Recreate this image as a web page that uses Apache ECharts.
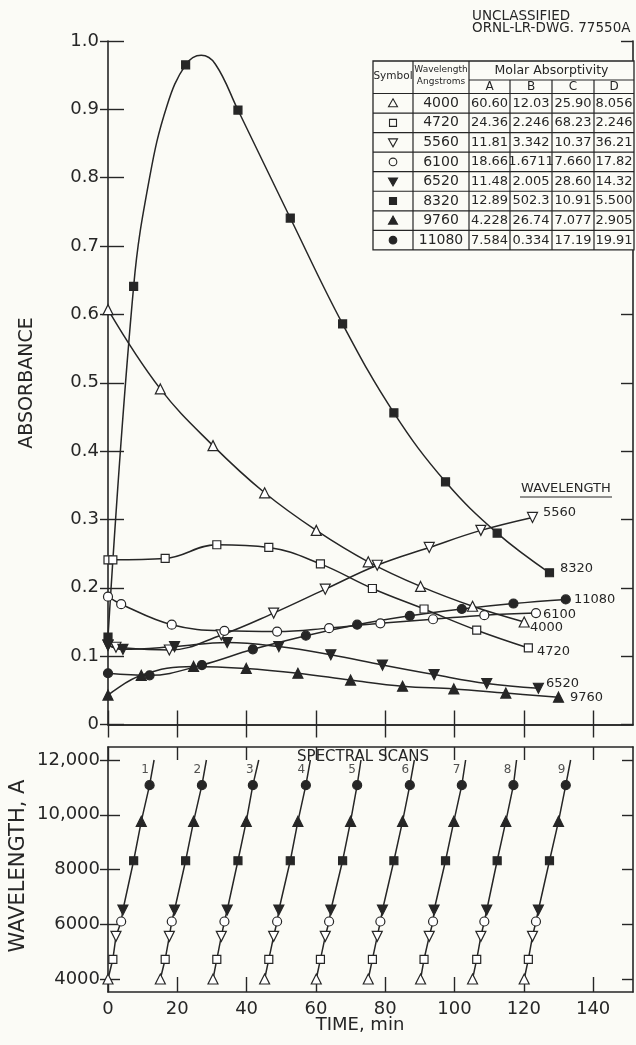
<!DOCTYPE html>
<html><head><meta charset="utf-8">
<script src="https://cdn.jsdelivr.net/npm/echarts@6/dist/echarts.min.js"></script>
<style>html,body{margin:0;padding:0;background:#fbfbf6}#c{width:636px;height:1045px}</style>
</head><body><div id="c"></div>
<script>
// ---------------- DATA ----------------
const wavelengths = [4000, 4720, 5560, 6100, 6520, 8320, 9760, 11080];
// absorbance drawn at t = 0 (null: the first scan point itself lies at t = 0)
const absAtZero = [null, 0.241, 0.116, 0.187, 0.116, 0.128, 0.043, 0.075];

const time4000 = [0, 15.1, 30.3, 45.2, 60.1, 75.1, 90.2, 105.2, 120.1];
const abs4000  = [0.607, 0.491, 0.408, 0.339, 0.284, 0.238, 0.202, 0.173, 0.150];
const time4720 = [1.4, 16.5, 31.4, 46.4, 61.3, 76.3, 91.2, 106.4, 121.3];
const abs4720  = [0.241, 0.243, 0.263, 0.259, 0.235, 0.199, 0.169, 0.138, 0.112];
const time5560 = [2.3, 17.7, 32.7, 47.8, 62.7, 77.7, 92.7, 107.6, 122.5];
const abs5560  = [0.113, 0.109, 0.131, 0.163, 0.198, 0.233, 0.259, 0.284, 0.303];
const time6100 = [3.8, 18.4, 33.6, 48.8, 63.8, 78.6, 93.8, 108.6, 123.5];
const abs6100  = [0.176, 0.146, 0.137, 0.136, 0.141, 0.148, 0.154, 0.160, 0.163];
const time6520 = [4.3, 19.2, 34.4, 49.3, 64.3, 79.2, 94.1, 109.3, 124.2];
const abs6520  = [0.110, 0.114, 0.120, 0.114, 0.102, 0.087, 0.073, 0.060, 0.053];
const time8320 = [7.4, 22.4, 37.5, 52.6, 67.7, 82.5, 97.4, 112.3, 127.4];
const abs8320  = [0.641, 0.965, 0.899, 0.741, 0.586, 0.456, 0.355, 0.280, 0.222];
const time9760 = [9.6, 24.7, 39.9, 54.8, 70.0, 85.0, 99.8, 114.8, 130.0];
const abs9760  = [0.072, 0.085, 0.082, 0.075, 0.065, 0.056, 0.052, 0.046, 0.040];
const time11080 = [12.0, 27.1, 41.8, 57.1, 71.9, 87.1, 102.1, 117.0, 132.1];
const abs11080  = [0.072, 0.087, 0.110, 0.130, 0.146, 0.159, 0.169, 0.177, 0.183];
// extra points (around its maximum)
const trace8320 = [[12.0, 0.800], [17.0, 0.905], [26.9, 0.979], [31.0, 0.966]];

// spectral scans (lower panel): end of each scan line
const scanNumbers = [1, 2, 3, 4, 5, 6, 7, 8, 9];
const scanTopTime = [13.3, 28.4, 43.5, 58.4, 73.0, 88.4, 103.2, 117.9, 133.5];
const scanTopWavelength = 12000;

// ticks
const timeTicks = [0, 20, 40, 60, 80, 100, 120, 140];
const absTicks = [0, 0.1, 0.2, 0.3, 0.4, 0.5, 0.6, 0.7, 0.8, 0.9, 1.0];
const wlTicks = [4000, 6000, 8000, 10000, 12000];

// table of molar absorptivities
const tableWavelengths = ['4000', '4720', '5560', '6100', '6520', '8320', '9760', '11080'];
const tableA = ['60.60', '24.36', '11.81', '18.66', '11.48', '12.89', '4.228', '7.584'];
const tableB = ['12.03', '2.246', '3.342', '1.6711', '2.005', '502.3', '26.74', '0.334'];
const tableC = ['25.90', '68.23', '10.37', '7.660', '28.60', '10.91', '7.077', '17.19'];
const tableD = ['8.056', '2.246', '36.21', '17.82', '14.32', '5.500', '2.905', '19.91'];
const curveLabels = ['4000', '4720', '5560', '6100', '6520', '8320', '9760', '11080'];

// ---------------- STYLE / BUILD ----------------
const times = [time4000, time4720, time5560, time6100, time6520, time8320, time9760, time11080];
const absv = [abs4000, abs4720, abs5560, abs6100, abs6520, abs8320, abs9760, abs11080];
const INK = '#262626';
const BG = '#fbfbf6';
const FONT = 'DejaVu Sans';
const LW = 1.5;
const sym = [
  {symbol: 'triangle', rotate: 0, filled: false, size: 10},
  {symbol: 'rect', rotate: 0, filled: false, size: 8},
  {symbol: 'triangle', rotate: 180, filled: false, size: 10},
  {symbol: 'circle', rotate: 0, filled: false, size: 9},
  {symbol: 'triangle', rotate: 180, filled: true, size: 10},
  {symbol: 'rect', rotate: 0, filled: true, size: 8},
  {symbol: 'triangle', rotate: 0, filled: true, size: 10},
  {symbol: 'circle', rotate: 0, filled: true, size: 9}
];

const series = [];
wavelengths.forEach((w, i) => {
  const pts = times[i].map((t, k) => [t, absv[i][k]]);
  const markerPts = (absAtZero[i] !== null ? [[0, absAtZero[i]]] : []).concat(pts);
  let linePts = markerPts.slice();
  if (w === 8320) linePts = linePts.concat(trace8320).sort((a, b) => a[0] - b[0]);
  series.push({
    type: 'line', xAxisIndex: 0, yAxisIndex: 0, data: linePts, smooth: 0.4,
    showSymbol: false, lineStyle: {color: INK, width: LW}, z: 2, silent: true
  });
  series.push({
    type: 'scatter', xAxisIndex: 0, yAxisIndex: 0, data: markerPts,
    symbol: sym[i].symbol, symbolRotate: sym[i].rotate, symbolSize: sym[i].size,
    itemStyle: {color: sym[i].filled ? INK : '#ffffff', borderColor: INK, borderWidth: 1.2, opacity: 1},
    z: 4, silent: true
  });
  // lower panel markers
  series.push({
    type: 'scatter', xAxisIndex: 2, yAxisIndex: 3, data: times[i].map(t => [t, w]),
    symbol: sym[i].symbol, symbolRotate: sym[i].rotate, symbolSize: sym[i].size,
    itemStyle: {color: sym[i].filled ? INK : '#ffffff', borderColor: INK, borderWidth: 1.2, opacity: 1},
    z: 4, silent: true
  });
});
scanNumbers.forEach((n, k) => {
  const pts = wavelengths.map((w, i) => [times[i][k], w]);
  pts.push([scanTopTime[k], scanTopWavelength]);
  series.push({
    type: 'line', xAxisIndex: 2, yAxisIndex: 3, data: pts, smooth: false,
    showSymbol: false, lineStyle: {color: INK, width: LW}, z: 2, silent: true
  });
});
series.push({
  type: 'scatter', xAxisIndex: 2, yAxisIndex: 3, symbolSize: 0, silent: true,
  data: scanTopTime.map((t, k) => [t, scanTopWavelength, scanNumbers[k]]),
  label: {show: true, formatter: p => String(p.value[2]), position: 'inside', offset: [-9, 10],
    fontFamily: FONT, fontSize: 12, color: INK}
});

const axisLine = {show: true, lineStyle: {color: INK, width: 1.6}};
const tick = (len, inside, vals) => ({show: true, inside: inside, length: len, customValues: vals,
  lineStyle: {color: INK, width: 1.4}});
const noLabel = {show: false};
const lab = (vals, fmt, margin) => ({show: true, customValues: vals, formatter: fmt, margin: margin,
  fontFamily: FONT, fontSize: 18, color: INK});
const XMAX = 151.5;
const xCommon = {type: 'value', min: 0, max: XMAX, splitLine: {show: false}, axisLine: axisLine};

const xAxis = [
  Object.assign({}, xCommon, {gridIndex: 0, position: 'bottom', axisTick: tick(14, true, timeTicks), axisLabel: noLabel}),
  Object.assign({}, xCommon, {gridIndex: 0, position: 'top', axisTick: tick(13, true, timeTicks), axisLabel: noLabel}),
  Object.assign({}, xCommon, {gridIndex: 1, position: 'bottom', axisTick: tick(15, true, timeTicks),
    axisLabel: lab(timeTicks, v => String(v), 8)}),
  Object.assign({}, xCommon, {gridIndex: 1, position: 'top', axisTick: tick(13, true, timeTicks), axisLabel: noLabel})
];
const yA = {type: 'value', min: 0, max: 1, splitLine: {show: false}, gridIndex: 0};
const yW = {type: 'value', min: 3525, max: 12475, splitLine: {show: false}, gridIndex: 1};
const yAxis = [
  Object.assign({}, yA, {position: 'left', axisLine: axisLine, axisTick: tick(8, false, absTicks),
    axisLabel: lab(absTicks, v => (v === 0 ? '0' : v.toFixed(1)), 9)}),
  Object.assign({}, yA, {position: 'left', axisLine: {show: false}, axisTick: tick(16, true, absTicks), axisLabel: noLabel}),
  Object.assign({}, yA, {position: 'right', axisLine: axisLine, axisTick: tick(12, true, absTicks), axisLabel: noLabel}),
  Object.assign({}, yW, {position: 'left', axisLine: axisLine, axisTick: tick(8, false, wlTicks),
    axisLabel: lab(wlTicks, v => (v >= 10000 ? v.toLocaleString('en-US') : String(v)), 8)}),
  Object.assign({}, yW, {position: 'left', axisLine: {show: false}, axisTick: tick(12, true, wlTicks), axisLabel: noLabel}),
  Object.assign({}, yW, {position: 'right', axisLine: axisLine, axisTick: tick(11, true, wlTicks), axisLabel: noLabel})
];

// ---------------- GRAPHIC (table and texts) ----------------
const g = [];
const txt = (s, x, y, size, align, extra) => Object.assign({
  type: 'text', x: x, y: y, z: 100, silent: true,
  style: {text: s, fill: INK, font: size + 'px "' + FONT + '"', textAlign: align || 'left', textVerticalAlign: 'middle'}
}, extra || {});
const ln = (x1, y1, x2, y2, w) => ({type: 'line', z: 100, silent: true,
  shape: {x1: x1, y1: y1, x2: x2, y2: y2}, style: {stroke: INK, lineWidth: w || 1.2}});

g.push(txt('UNCLASSIFIED', 472, 16, 13.5));
g.push(txt('ORNL-LR-DWG. 77550A', 472, 28, 13.5));
g.push(txt('ABSORBANCE', 27, 383, 19, 'center', {rotation: Math.PI / 2}));
g.push(txt('WAVELENGTH, A', 19, 866, 21, 'center', {rotation: Math.PI / 2}));
g.push(txt('TIME, min', 360, 1025, 18, 'center'));
g.push(txt('SPECTRAL SCANS', 363, 757, 15, 'center'));
g.push(txt('WAVELENGTH', 521, 489, 13));
g.push(ln(520, 497, 612, 497, 1));
const labelPos = [[530, 628], [537, 652], [543, 513], [543, 615], [546, 684], [560, 569], [570, 698], [574, 600]];
curveLabels.forEach((s, i) => g.push(txt(s, labelPos[i][0], labelPos[i][1], 13)));

// table
const colX = [373, 413, 469, 510, 552, 594, 634];
const tTop = 61, tSub = 80, tHead = 93.5, rowH = 19.55;
const tBot = tHead + rowH * tableWavelengths.length;
g.push({type: 'rect', z: 99, silent: true, shape: {x: colX[0], y: tTop, width: colX[6] - colX[0], height: tBot - tTop},
  style: {fill: BG, stroke: INK, lineWidth: 1.3}});
g.push(ln(colX[0], tHead, colX[6], tHead));
g.push(ln(colX[2], tSub, colX[6], tSub));
for (let c = 1; c < 6; c++) g.push(ln(colX[c], c >= 3 ? tSub : tTop, colX[c], tBot));
for (let r = 1; r < tableWavelengths.length; r++) g.push(ln(colX[0], tHead + rowH * r, colX[6], tHead + rowH * r));
g.push(txt('Symbol', (colX[0] + colX[1]) / 2, 76, 10.5, 'center'));
g.push(txt('Wavelength', (colX[1] + colX[2]) / 2, 70, 9, 'center'));
g.push(txt('Angstroms', (colX[1] + colX[2]) / 2, 81.5, 9, 'center'));
g.push(txt('Molar Absorptivity', (colX[2] + colX[6]) / 2, 70.5, 12.5, 'center'));
['A', 'B', 'C', 'D'].forEach((s, j) => g.push(txt(s, (colX[2 + j] + colX[3 + j]) / 2, 87, 12, 'center')));
tableWavelengths.forEach((wl, r) => {
  const cy = tHead + rowH * (r + 0.5);
  const cx = (colX[0] + colX[1]) / 2;
  const s = sym[r];
  const st = {fill: s.filled ? INK : BG, stroke: INK, lineWidth: 1.1};
  let shp;
  if (s.symbol === 'circle') shp = {type: 'circle', shape: {cx: cx, cy: cy, r: 3.8}};
  else if (s.symbol === 'rect') shp = {type: 'rect', shape: {x: cx - 3.5, y: cy - 3.5, width: 7, height: 7}};
  else if (s.rotate === 0) shp = {type: 'polygon', shape: {points: [[cx, cy - 4.5], [cx + 4.5, cy + 3.5], [cx - 4.5, cy + 3.5]]}};
  else shp = {type: 'polygon', shape: {points: [[cx, cy + 4.5], [cx + 4.5, cy - 3.5], [cx - 4.5, cy - 3.5]]}};
  shp.style = st; shp.z = 100; shp.silent = true;
  g.push(shp);
  g.push(txt(wl, (colX[1] + colX[2]) / 2, cy, 14, 'center'));
  [tableA, tableB, tableC, tableD].forEach((col, j) =>
    g.push(txt(col[r], (colX[2 + j] + colX[3 + j]) / 2, cy, 13, 'center')));
});

const chart = echarts.init(document.getElementById('c'), null, {renderer: 'canvas'});
chart.setOption({
  backgroundColor: BG,
  animation: false,
  grid: [
    {left: 108, right: 3, top: 41, height: 683.5},
    {left: 108, right: 3, top: 747, height: 245}
  ],
  xAxis: xAxis,
  yAxis: yAxis,
  series: series,
  graphic: g
});
</script></body></html>
